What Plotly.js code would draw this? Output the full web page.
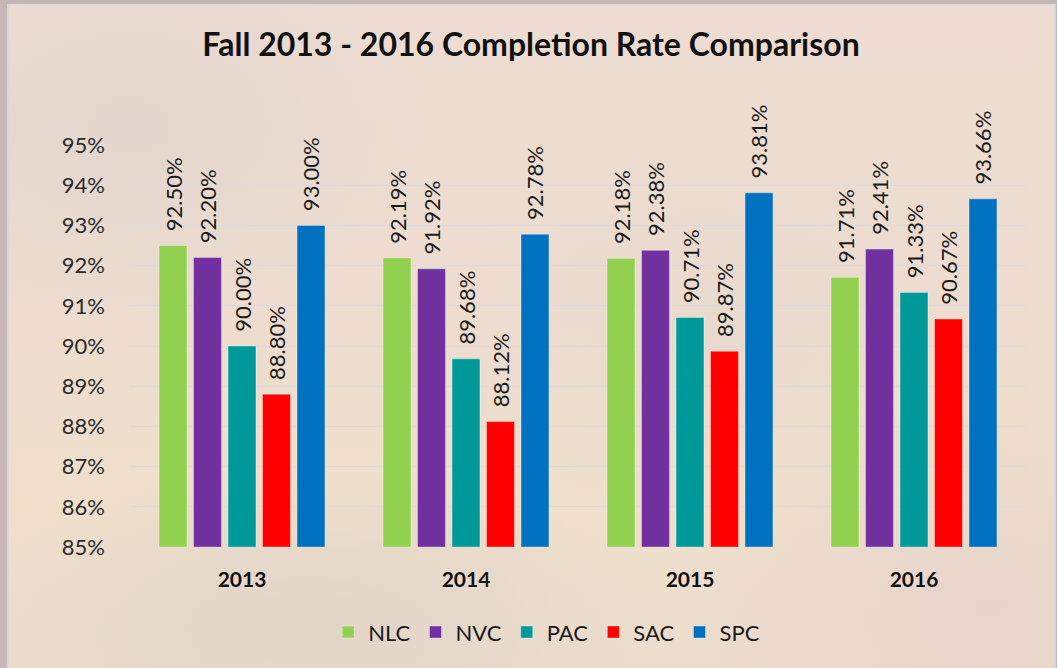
<!DOCTYPE html>
<html>
<head>
<meta charset="utf-8">
<script src="https://cdn.plot.ly/plotly-3.0.1.min.js"></script>
<style>
  html, body { margin:0; padding:0; width:1057px; height:668px; overflow:hidden; background:#c7b6b6; }
  #frame { position:absolute; left:7px; top:4px; width:1045px; height:668px; border-left:2px solid #dcdad8; border-right:2px solid #d8d6d6; border-top:2px solid #e2dcda;
    background:
      radial-gradient(ellipse 300px 200px at 120px 120px, rgba(226,214,206,0.9), rgba(226,214,206,0) 100%),
      radial-gradient(ellipse 350px 160px at 300px 620px, rgba(224,212,200,0.9), rgba(224,212,200,0) 100%),
      radial-gradient(ellipse 260px 200px at 700px 330px, rgba(232,218,206,0.8), rgba(232,218,206,0) 100%),
      radial-gradient(ellipse 300px 220px at 980px 600px, rgba(232,212,204,0.9), rgba(232,212,204,0) 100%),
      linear-gradient(180deg, #eedcd2 0%, #eddccf 40%, #efdfcb 75%, #ecdccd 100%);
  }
  #chart { position:absolute; left:0; top:0; width:1057px; height:668px; }
</style>
</head>
<body>
<div id="frame"></div>
<div id="chart"></div>
<script>
const years = ['2013', '2014', '2015', '2016'];
const seriesNames = ['NLC', 'NVC', 'PAC', 'SAC', 'SPC'];
const NLC = [92.50, 92.19, 92.18, 91.71];
const NVC = [92.20, 91.92, 92.38, 92.41];
const PAC = [90.00, 89.68, 90.71, 91.33];
const SAC = [88.80, 88.12, 89.87, 90.67];
const SPC = [93.00, 92.78, 93.81, 93.66];
const yTicks = [85, 86, 87, 88, 89, 90, 91, 92, 93, 94, 95];
const colors = ['#92d050', '#7030a0', '#009999', '#ff0000', '#0070c0'];
const axisBase = 85;

const allSeries = [NLC, NVC, PAC, SAC, SPC];
const FONT = 'Lato, "Open Sans", sans-serif';

const traces = allSeries.map((vals, i) => ({
  type: 'bar',
  name: seriesNames[i],
  x: years,
  y: vals.map(v => v - axisBase),
  base: axisBase,
  text: vals.map(v => '\u00a0\u00a0' + v.toFixed(2) + '%'),
  textposition: 'outside',
  textangle: -90,
  constraintext: 'none',
  cliponaxis: false,
  textfont: { family: FONT, size: 22, color: '#1a1a1a' },
  marker: { color: colors[i], line: { color: 'rgba(255,255,255,0.35)', width: 1 } },
  hovertemplate: '%{x} ' + seriesNames[i] + ': %{text}<extra></extra>'
}));

const layout = {
  width: 1057, height: 668,
  paper_bgcolor: 'rgba(0,0,0,0)',
  plot_bgcolor: 'rgba(0,0,0,0)',
  margin: { l: 130, r: 31, t: 145, b: 121 },
  title: {
    text: '<b>Fall 2013 - 2016 Completion Rate Comparison</b>',
    font: { family: FONT, size: 32, color: '#111' },
    x: 531 / 1057, xanchor: 'center', xref: 'container',
    y: 1 - 45 / 668, yanchor: 'middle', yref: 'container'
  },
  barmode: 'group',
  bargap: 0.23,
  bargroupgap: 0.19,
  showlegend: true,
  legend: {
    orientation: 'h', x: 0.465, xanchor: 'center', y: -0.212, yanchor: 'middle',
    font: { family: FONT, size: 22, color: '#1a1a1a' },
    bgcolor: 'rgba(0,0,0,0)', traceorder: 'normal'
  },
  xaxis: {
    type: 'category',
    tickfont: { family: FONT, size: 21, color: '#111' },
    tickvals: years,
    ticktext: years.map(y => '<b>' + y + '</b>'),
    showgrid: false, zeroline: false, showline: false,
    ticks: '', ticklabelstandoff: 18
  },
  yaxis: {
    range: [85, 95],
    tickvals: yTicks,
    ticktext: yTicks.map(t => t + '%'),
    tickfont: { family: FONT, size: 22, color: '#2a2a2a' },
    showgrid: true, gridcolor: '#d9dbe0', gridwidth: 1,
    zeroline: false, showline: false, ticks: '', ticklabelstandoff: 24
  }
};

Plotly.newPlot('chart', traces, layout, { displayModeBar: false });
</script>
</body>
</html>
